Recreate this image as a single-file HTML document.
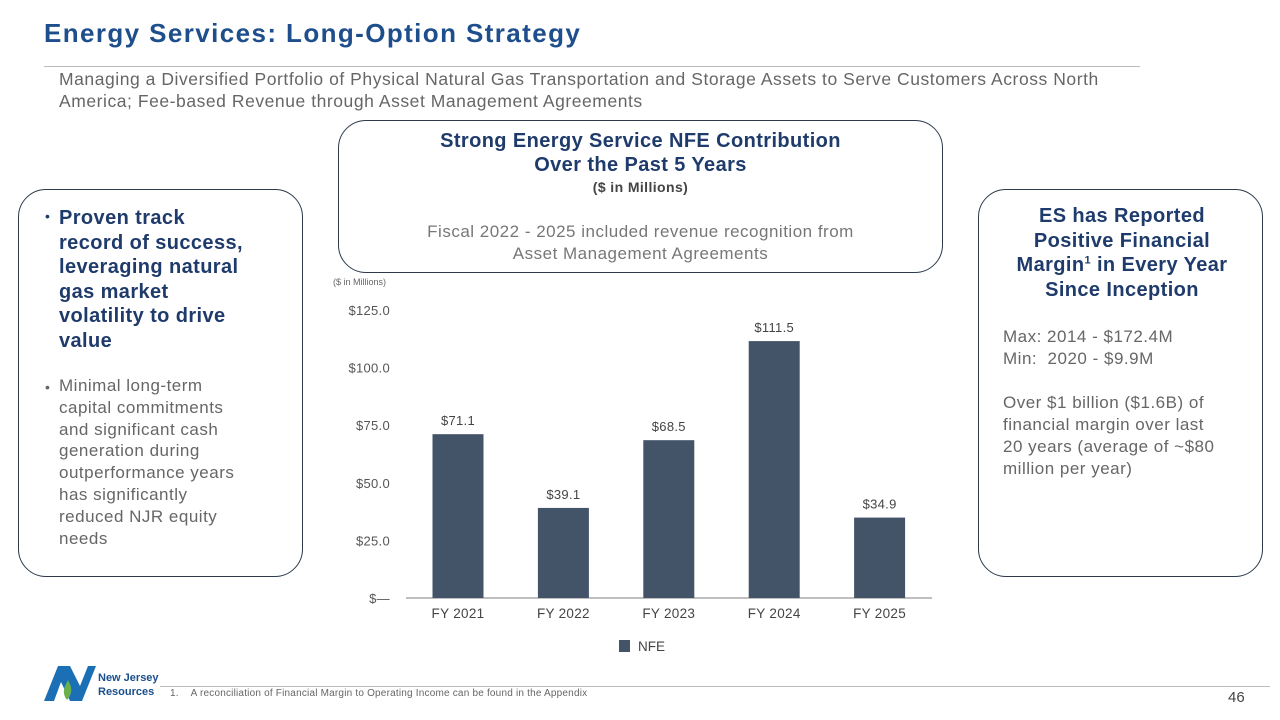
<!DOCTYPE html>
<html><head><meta charset="utf-8"><style>
body{margin:0;width:1280px;height:720px;background:#fff;font-family:"Liberation Sans",sans-serif;position:relative;overflow:hidden}
.a{position:absolute}
.box{position:absolute;border:1px solid #2d3a4a;border-radius:28px;box-sizing:border-box}
.navy{color:#1f3b6b;font-weight:bold;letter-spacing:0.4px}
.gray{color:#777;letter-spacing:0.5px}
</style></head><body>
<div class="a navy" style="left:44px;top:18px;font-size:26px;color:#1f4e8c;letter-spacing:1.4px">Energy Services: Long-Option Strategy</div>
<div class="a" style="left:44px;top:66px;width:1096px;height:1px;background:#bbb"></div>
<div class="a gray" style="left:59px;top:68px;width:1180px;font-size:17.5px;line-height:22px;color:#666;letter-spacing:0.55px">Managing a Diversified Portfolio of Physical Natural Gas Transportation and Storage Assets to Serve Customers Across North<br>America; Fee-based Revenue through Asset Management Agreements</div>

<div class="box" style="left:338px;top:120px;width:605px;height:153px;text-align:center">
<div class="navy" style="font-size:20px;line-height:24px;margin-top:8px">Strong Energy Service NFE Contribution<br>Over the Past 5 Years</div>
<div class="navy" style="font-size:14px;color:#444;margin-top:2px">($ in Millions)</div>
<div class="gray" style="font-size:17px;line-height:22px;margin-top:26px">Fiscal 2022 - 2025 included revenue recognition from<br>Asset Management Agreements</div>
</div>

<div class="box" style="left:18px;top:189px;width:285px;height:388px;padding:16px 0 0 40px">
<div class="a" style="left:26px;top:18px;font-size:14px;color:#1f3b6b">•</div>
<div class="navy" style="font-size:20px;line-height:24.5px;width:230px">Proven track<br>record of success,<br>leveraging natural<br>gas market<br>volatility to drive<br>value</div>
<div class="a" style="left:26px;top:189px;font-size:14px;color:#666">•</div>
<div class="gray" style="font-size:17px;line-height:21.8px;width:230px;margin-top:22px;color:#666">Minimal long-term<br>capital commitments<br>and significant cash<br>generation during<br>outperformance years<br>has significantly<br>reduced NJR equity<br>needs</div>
</div>

<div class="box" style="left:978px;top:189px;width:285px;height:388px;padding:14px 0 0 24px">
<div class="navy" style="font-size:20px;line-height:24.5px;text-align:center;width:238px">ES has Reported Positive Financial Margin<sup style="font-size:11px;line-height:0">1</sup> in Every Year Since Inception</div>
<div class="gray" style="font-size:17px;line-height:22px;margin-top:24px;color:#666;width:250px">Max: 2014 - $172.4M<br>Min:&nbsp; 2020 - $9.9M<br><br>Over $1 billion ($1.6B) of<br>financial margin over last<br>20 years (average of ~$80<br>million per year)</div>
</div>

<svg class="a" style="left:0;top:0" width="1280" height="720" id="chart"></svg>

<div class="a" style="left:160px;top:686px;width:1110px;height:1px;background:#bbb"></div>
<div class="a" style="left:170px;top:688px;font-size:10px;color:#666;letter-spacing:0.2px">1.&nbsp;&nbsp;&nbsp;&nbsp;A reconciliation of Financial Margin to Operating Income can be found in the Appendix</div>
<div class="a" style="left:1228px;top:689px;font-size:15px;color:#444">46</div>
<svg class="a" style="left:44px;top:664px" width="120" height="40">
<polygon points="0,37 14,2 26,2 36,22 44,2 52,2 38,37 26,37 17,18 10,37" fill="#1a6fb5"/>
<path d="M23,36 C17,28 21,22 24,16 C27,22 30,28 23,36Z" fill="#6ab04c"/>
<text x="54" y="17" font-size="11" font-weight="bold" fill="#1a4f8b" font-family="Liberation Sans">New Jersey</text>
<text x="54" y="31" font-size="11" font-weight="bold" fill="#1a4f8b" font-family="Liberation Sans">Resources</text>
</svg>

<script>
const categories=["FY 2021","FY 2022","FY 2023","FY 2024","FY 2025"];
const nfeValues=[71.1,39.1,68.5,111.5,34.9];
const valueLabels=["$71.1","$39.1","$68.5","$111.5","$34.9"];
const tickValues=[0,25,50,75,100,125];
const tickLabels=["$—","$25.0","$50.0","$75.0","$100.0","$125.0"];
const svg=document.getElementById('chart');
const NS='http://www.w3.org/2000/svg';
const y0=598,pxPer=288/125,x0=458,step=105.4,bw=51;
const yS=v=>y0-v*pxPer, xS=i=>x0+i*step;
function mk(t,a,txt){const e=document.createElementNS(NS,t);for(const k in a)e.setAttribute(k,a[k]);if(txt!=null)e.textContent=txt;svg.appendChild(e);return e;}
let e=mk('text',{x:333,y:285,'font-size':9,fill:'#666','font-family':'Liberation Sans'},'($ in Millions)');


tickValues.forEach((v,i)=>{
 const t=mk('text',{x:390,y:yS(v)+5,'text-anchor':'end','font-size':13,fill:'#555','font-family':'Liberation Sans','letter-spacing':'0.3'},tickLabels[i]);
 
 
});
const ax=mk('line',{x1:406,x2:932,y1:y0,y2:y0,stroke:'#aaa','stroke-width':1.5});


categories.forEach((c,i)=>{
 const r=mk('rect',{x:xS(i)-bw/2,y:yS(nfeValues[i]),width:bw,height:nfeValues[i]*pxPer,fill:'#435368'});
 
 
 const l=mk('text',{x:xS(i),y:yS(nfeValues[i])-9,'text-anchor':'middle','font-size':13,fill:'#444','font-family':'Liberation Sans','letter-spacing':'0.3'},valueLabels[i]);
 
 
 const x=mk('text',{x:xS(i),y:618,'text-anchor':'middle','font-size':13.5,fill:'#444','font-family':'Liberation Sans','letter-spacing':'0.3'},c);
 
 
});
const lg=mk('rect',{x:619,y:640,width:11,height:12,fill:'#435368'});


const lt=mk('text',{x:638,y:651,'font-size':13.5,fill:'#444','font-family':'Liberation Sans'},'NFE');


</script>
</body></html>
